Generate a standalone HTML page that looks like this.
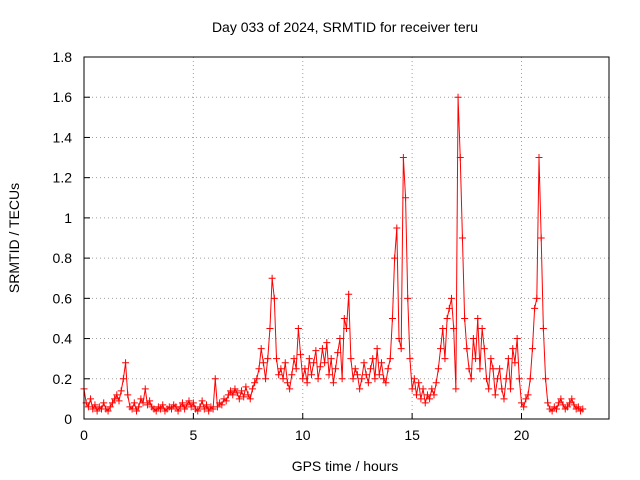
<!DOCTYPE html>
<html><head><meta charset="utf-8"><style>
body{margin:0;background:#fff}
svg{display:block;font-family:"Liberation Sans",sans-serif;font-size:14px}
</style></head><body>
<svg id="c" width="640" height="480">
<text x="345" y="32" text-anchor="middle">Day 033 of 2024, SRMTID for receiver teru</text>
<text x="345" y="471" text-anchor="middle">GPS time / hours</text>
<text transform="translate(19,238) rotate(-90)" text-anchor="middle">SRMTID / TECUs</text>
<g id="grid"></g><g id="ticks"></g><g id="data"></g>
<rect x="84" y="57" width="525" height="362" fill="none" stroke="#000"/>
</svg>
<script>
const xTicks=[0,5,10,15,20];
const yTicks=[0,0.2,0.4,0.6,0.8,1,1.2,1.4,1.6,1.8];
const yTickLabels=["0","0.2","0.4","0.6","0.8","1","1.2","1.4","1.6","1.8"];
const startHour=0, stepHour=0.1;
const values=[
0.15,0.08,0.06,0.1,0.05,0.07,0.04,0.06,0.05,0.08,
0.05,0.04,0.06,0.08,0.1,0.12,0.09,0.14,0.2,0.28,
0.12,0.06,0.05,0.08,0.04,0.06,0.1,0.08,0.15,0.07,
0.09,0.06,0.05,0.04,0.06,0.05,0.07,0.04,0.05,0.06,
0.05,0.07,0.06,0.04,0.06,0.08,0.05,0.07,0.09,0.06,
0.08,0.05,0.04,0.06,0.09,0.05,0.07,0.04,0.06,0.05,
0.2,0.06,0.08,0.07,0.1,0.09,0.12,0.14,0.12,0.15,
0.13,0.1,0.14,0.11,0.16,0.12,0.1,0.15,0.18,0.2,
0.25,0.35,0.28,0.2,0.3,0.45,0.7,0.6,0.3,0.22,
0.25,0.2,0.28,0.18,0.15,0.22,0.3,0.25,0.45,0.32,
0.2,0.25,0.18,0.3,0.22,0.28,0.34,0.2,0.26,0.35,
0.28,0.38,0.22,0.3,0.18,0.25,0.33,0.4,0.2,0.5,
0.45,0.62,0.3,0.2,0.25,0.22,0.15,0.2,0.28,0.22,
0.18,0.25,0.3,0.2,0.35,0.22,0.28,0.2,0.18,0.25,
0.3,0.5,0.8,0.95,0.4,0.35,1.3,1.1,0.6,0.3,
0.15,0.2,0.12,0.18,0.1,0.15,0.08,0.12,0.1,0.15,
0.12,0.18,0.25,0.35,0.45,0.3,0.5,0.55,0.6,0.45,
0.15,1.6,1.3,0.9,0.5,0.35,0.25,0.2,0.4,0.3,
0.5,0.25,0.45,0.35,0.2,0.15,0.3,0.25,0.12,0.2,
0.25,0.15,0.1,0.2,0.3,0.15,0.35,0.28,0.4,0.2,
0.08,0.06,0.1,0.12,0.2,0.35,0.55,0.6,1.3,0.9,
0.45,0.2,0.08,0.05,0.04,0.06,0.05,0.08,0.1,0.07,
0.05,0.06,0.08,0.1,0.07,0.05,0.06,0.04,0.05];
const X0=84,X1=609,Y0=419,Y1=57;
const xs=h=>X0+(h/24)*(X1-X0);
const ys=v=>Y0-(v/1.8)*(Y0-Y1);
const NS="http://www.w3.org/2000/svg";
function mk(t,a,p){const e=document.createElementNS(NS,t);for(const k in a)e.setAttribute(k,a[k]);p.appendChild(e);return e;}
const grid=document.getElementById('grid'),ticks=document.getElementById('ticks'),data=document.getElementById('data');
xTicks.forEach(t=>{const x=xs(t);
 if(t>0){const g=mk('line',{x1:x,x2:x,y1:Y1,y2:Y0,stroke:'#a0a0a0','stroke-dasharray':'1,3'},grid);
 
 }
 mk('line',{x1:x,x2:x,y1:Y0,y2:Y0-6,stroke:'#000'},ticks);
 const l=mk('text',{x:x,y:Y0+21,'text-anchor':'middle'},ticks);l.textContent=t;
 
 });
yTicks.forEach((t,i)=>{const y=ys(t);
 if(t>0&&t<1.8){const g=mk('line',{x1:X0,x2:X1,y1:y,y2:y,stroke:'#a0a0a0','stroke-dasharray':'1,3'},grid);
 
 }
 mk('line',{x1:X0,x2:X0+6,y1:y,y2:y,stroke:'#000'},ticks);
 const l=mk('text',{x:X0-12,y:y+5,'text-anchor':'end'},ticks);l.textContent=yTickLabels[i];
 
 });
let pts=values.map((v,i)=>xs(startHour+i*stepHour)+','+ys(v)).join(' ');
const pl=mk('polyline',{points:pts,fill:'none',stroke:'#ff0000','stroke-width':1},data);


values.forEach((v,i)=>{const x=xs(startHour+i*stepHour),y=ys(v);
 const p=mk('path',{d:`M${x-3.5},${y}h7M${x},${y-3.5}v7`,stroke:'#ff0000','stroke-width':1},data);
 
 });
</script>
</body></html>
